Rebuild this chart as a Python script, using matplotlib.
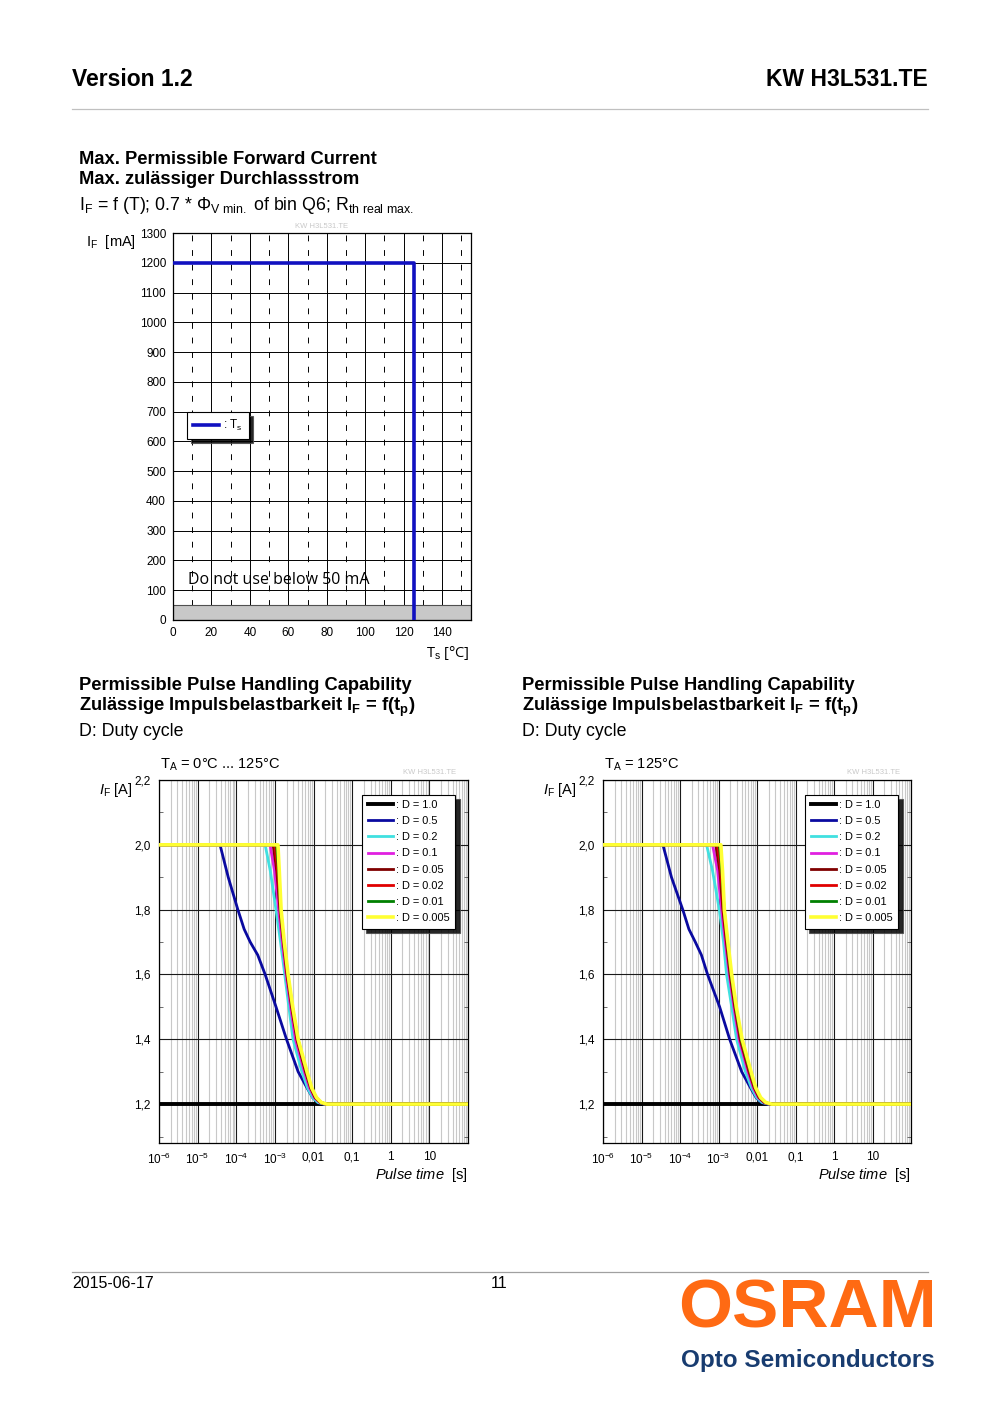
import matplotlib
matplotlib.use("Agg")
import matplotlib.pyplot as plt
from matplotlib.lines import Line2D

plt.rcParams['font.family'] = ['Liberation Sans', 'DejaVu Sans']
plt.rcParams['mathtext.fontset'] = 'custom'
plt.rcParams['mathtext.rm'] = 'Liberation Sans'
plt.rcParams['mathtext.it'] = 'Liberation Sans:italic'
plt.rcParams['mathtext.bf'] = 'Liberation Sans:bold'

# ---------------- data ----------------
# Chart 1: max permissible forward current
ts_temp = [0, 125.5, 125.5]
ts_current = [1200, 1200, 0]
top_yticks = [0, 100, 200, 300, 400, 500, 600, 700, 800, 900, 1000, 1100, 1200, 1300]
top_xticks = [0, 20, 40, 60, 80, 100, 120, 140]

# Pulse charts: tick labels
pulse_xticks = [1e-6, 1e-5, 1e-4, 1e-3, 1e-2, 1e-1, 1, 10, 100]
pulse_xlabels = ['10$^{-6}$', '10$^{-5}$', '10$^{-4}$', '10$^{-3}$', '0,01', '0,1', '1', '10', '']
pulse_yticks = [1.2, 1.4, 1.6, 1.8, 2.0, 2.2]
pulse_ylabels = ['1,2', '1,4', '1,6', '1,8', '2,0', '2,2']

duty_labels = [': D = 1.0', ': D = 0.5', ': D = 0.2', ': D = 0.1', ': D = 0.05',
               ': D = 0.02', ': D = 0.01', ': D = 0.005']

# Left chart (TA = 0..125 °C): pulse time [s] and current [A] per duty cycle
L_t_d10 = [1e-6, 100]
L_i_d10 = [1.2, 1.2]
L_t_d05 = [1e-6, 3.8e-5, 6.2e-5, 1.1e-4, 1.6e-4, 2.3e-4, 3.6e-4, 5.6e-4, 1.07e-3, 2.0e-3, 4.0e-3, 6.8e-3, 9.5e-3, 0.013, 0.018, 100]
L_i_d05 = [2.0, 2.0, 1.9, 1.8, 1.74, 1.7, 1.66, 1.6, 1.5, 1.4, 1.3, 1.25, 1.22, 1.205, 1.2, 1.2]
L_t_d02 = [1e-6, 5.6e-4, 7.6e-4, 1.07e-3, 1.4e-3, 1.8e-3, 2.3e-3, 2.95e-3, 5.0e-3, 7.0e-3, 9.5e-3, 0.013, 0.019, 100]
L_i_d02 = [2.0, 2.0, 1.92, 1.8, 1.7, 1.6, 1.5, 1.4, 1.3, 1.25, 1.22, 1.205, 1.2, 1.2]
L_t_d01 = [1e-6, 7.5e-4, 9.8e-4, 1.25e-3, 1.55e-3, 1.95e-3, 2.55e-3, 3.4e-3, 5.8e-3, 7.9e-3, 0.0105, 0.0145, 0.02, 100]
L_i_d01 = [2.0, 2.0, 1.92, 1.8, 1.7, 1.6, 1.5, 1.4, 1.3, 1.25, 1.22, 1.205, 1.2, 1.2]
L_t_d005 = [1e-6, 9.0e-4, 1.12e-3, 1.35e-3, 1.65e-3, 2.05e-3, 2.7e-3, 3.7e-3, 6.2e-3, 8.4e-3, 0.011, 0.015, 0.021, 100]
L_i_d005 = [2.0, 2.0, 1.92, 1.8, 1.7, 1.6, 1.5, 1.4, 1.3, 1.25, 1.22, 1.205, 1.2, 1.2]
L_t_d002 = [1e-6, 1.0e-3, 1.18e-3, 1.4e-3, 1.7e-3, 2.1e-3, 2.8e-3, 3.85e-3, 6.5e-3, 8.7e-3, 0.0115, 0.0155, 0.021, 100]
L_i_d002 = [2.0, 2.0, 1.92, 1.8, 1.7, 1.6, 1.5, 1.4, 1.3, 1.25, 1.22, 1.205, 1.2, 1.2]
L_t_d001 = [1e-6, 1.1e-3, 1.25e-3, 1.42e-3, 1.72e-3, 2.15e-3, 2.85e-3, 3.95e-3, 6.6e-3, 8.8e-3, 0.0118, 0.0158, 0.022, 100]
L_i_d001 = [2.0, 2.0, 1.92, 1.8, 1.7, 1.6, 1.5, 1.4, 1.3, 1.25, 1.22, 1.205, 1.2, 1.2]
L_t_d0005 = [1e-6, 1.2e-3, 1.3e-3, 1.45e-3, 1.75e-3, 2.2e-3, 2.9e-3, 4.0e-3, 6.8e-3, 9.0e-3, 0.012, 0.016, 0.022, 100]
L_i_d0005 = [2.0, 2.0, 1.92, 1.8, 1.7, 1.6, 1.5, 1.4, 1.3, 1.25, 1.22, 1.205, 1.2, 1.2]

# Right chart (TA = 125 °C)
R_t_d10 = [1e-6, 100]
R_i_d10 = [1.2, 1.2]
R_t_d05 = [1e-6, 3.6e-5, 6.0e-5, 1.18e-4, 1.7e-4, 2.5e-4, 3.6e-4, 5.2e-4, 1.07e-3, 1.95e-3, 4.0e-3, 6.8e-3, 9.5e-3, 0.013, 0.018, 100]
R_i_d05 = [2.0, 2.0, 1.9, 1.8, 1.74, 1.7, 1.66, 1.6, 1.5, 1.4, 1.3, 1.25, 1.22, 1.205, 1.2, 1.2]
R_t_d02 = [1e-6, 4.9e-4, 7.0e-4, 1.05e-3, 1.35e-3, 1.62e-3, 2.2e-3, 2.95e-3, 5.0e-3, 7.2e-3, 0.0098, 0.0135, 0.02, 100]
R_i_d02 = [2.0, 2.0, 1.92, 1.8, 1.7, 1.6, 1.5, 1.4, 1.3, 1.25, 1.22, 1.205, 1.2, 1.2]
R_t_d01 = [1e-6, 7.0e-4, 9.5e-4, 1.2e-3, 1.5e-3, 1.9e-3, 2.5e-3, 3.4e-3, 5.8e-3, 8.0e-3, 0.0108, 0.015, 0.021, 100]
R_i_d01 = [2.0, 2.0, 1.92, 1.8, 1.7, 1.6, 1.5, 1.4, 1.3, 1.25, 1.22, 1.205, 1.2, 1.2]
R_t_d005 = [1e-6, 8.5e-4, 1.08e-3, 1.3e-3, 1.6e-3, 2.0e-3, 2.65e-3, 3.65e-3, 6.2e-3, 8.5e-3, 0.0113, 0.0155, 0.022, 100]
R_i_d005 = [2.0, 2.0, 1.92, 1.8, 1.7, 1.6, 1.5, 1.4, 1.3, 1.25, 1.22, 1.205, 1.2, 1.2]
R_t_d002 = [1e-6, 9.5e-4, 1.15e-3, 1.35e-3, 1.65e-3, 2.08e-3, 2.75e-3, 3.8e-3, 6.5e-3, 8.8e-3, 0.0117, 0.016, 0.022, 100]
R_i_d002 = [2.0, 2.0, 1.92, 1.8, 1.7, 1.6, 1.5, 1.4, 1.3, 1.25, 1.22, 1.205, 1.2, 1.2]
R_t_d001 = [1e-6, 1.05e-3, 1.22e-3, 1.4e-3, 1.7e-3, 2.12e-3, 2.8e-3, 3.9e-3, 6.7e-3, 9.0e-3, 0.012, 0.0165, 0.023, 100]
R_i_d001 = [2.0, 2.0, 1.92, 1.8, 1.7, 1.6, 1.5, 1.4, 1.3, 1.25, 1.22, 1.205, 1.2, 1.2]
R_t_d0005 = [1e-6, 1.15e-3, 1.27e-3, 1.42e-3, 1.75e-3, 2.2e-3, 2.9e-3, 4.1e-3, 7.0e-3, 9.3e-3, 0.0125, 0.017, 0.024, 100]
R_i_d0005 = [2.0, 2.0, 1.92, 1.8, 1.7, 1.6, 1.5, 1.4, 1.3, 1.25, 1.22, 1.205, 1.2, 1.2]

duty_colors = ['#000000', '#0a0aa0', '#40e0e0', '#e020e0', '#800000', '#e00000', '#008000', '#ffff33']
duty_widths = [2.8, 2.0, 2.0, 2.0, 2.0, 2.0, 2.0, 2.6]

# ---------------- figure ----------------
W, H = 1000, 1415
fig = plt.figure(figsize=(W / 100, H / 100), dpi=100)


def fx(px):
    return px / W


def fy(py):
    return 1 - py / H


def ax_rect(l, t, r, b):
    return [l / W, 1 - b / H, (r - l) / W, (b - t) / H]


# header / footer
fig.text(fx(72), fy(80), 'Version 1.2', fontsize=16.5, fontweight='bold', va='center', ha='left')
fig.text(fx(928), fy(80), 'KW H3L531.TE', fontsize=16.5, fontweight='bold', va='center', ha='right')
fig.add_artist(Line2D([fx(72), fx(928)], [fy(109), fy(109)], color='#c0c0c0', lw=0.9))
fig.add_artist(Line2D([fx(72), fx(928)], [fy(1272), fy(1272)], color='#a0a0a0', lw=0.9))
fig.text(fx(72), fy(1284), '2015-06-17', fontsize=11.5, va='center', ha='left')
fig.text(fx(499), fy(1284), '11', fontsize=11.5, va='center', ha='center')
fig.text(fx(807), fy(1309), 'OSRAM', fontsize=50, fontweight='bold', color='#ff6a13',
         va='center', ha='center')
fig.text(fx(808), fy(1360), 'Opto Semiconductors', fontsize=17.5, fontweight='bold',
         color='#183c70', va='center', ha='center')

# ---------------- top chart ----------------
fig.text(fx(79), fy(159), 'Max. Permissible Forward Current', fontsize=13.2, fontweight='bold', va='center')
fig.text(fx(79), fy(180), 'Max. zulässiger Durchlassstrom', fontsize=13.2, fontweight='bold', va='center')
fig.text(fx(79), fy(205), r'I$_\mathrm{F}$ = f (T); 0.7 * Φ$_\mathrm{V\ min.}$ of bin Q6; R$_\mathrm{th\ real\ max.}$',
         fontsize=12.8, va='center')

ax = fig.add_axes(ax_rect(173, 233, 471, 620))
ax.set_xlim(0, 155)
ax.set_ylim(0, 1300)
ax.axhspan(0, 50, facecolor='#c8c8c8', edgecolor='#505050', lw=0.8, zorder=2)
ax.set_xticks(top_xticks)
ax.set_xticks([10, 30, 50, 70, 90, 110, 130, 150], minor=True)
ax.set_yticks(top_yticks)
ax.grid(which='major', color='black', lw=0.7, zorder=1)
ax.grid(which='minor', axis='x', color='black', lw=0.7, ls=(0, (6, 9)), zorder=1)
ax.tick_params(which='both', length=0, labelsize=8.5, pad=5)
ax.plot(ts_temp, ts_current, color='#1010c0', lw=2.6, zorder=4, label=': T$_\mathrm{s}$')
for s in ax.spines.values():
    s.set_linewidth(0.9)
ax.text(8, 134, 'Do not use below 50 mA', fontsize=11.5, family=['Open Sans', 'DejaVu Sans'],
        va='center', ha='left', zorder=5)
leg = ax.legend(loc='upper left', bbox_to_anchor=(0.026, 0.553), fontsize=8.5, fancybox=False,
                edgecolor='black', framealpha=1, handlelength=2.2, handletextpad=0.4,
                borderpad=0.5, shadow={'ox': 3, 'oy': -3, 'facecolor': 'black', 'alpha': 0.85})
leg.get_frame().set_linewidth(0.8)
fig.text(fx(86), fy(242), r'I$_\mathrm{F}$  [mA]', fontsize=10.5, va='center', ha='left')
fig.text(fx(470), fy(653), r'T$_\mathrm{s}$ [°C]', fontsize=10.5, va='center', ha='right',
         family=['Open Sans', 'DejaVu Sans'])
fig.text(fx(322), fy(226), 'KW H3L531.TE', fontsize=5.5, color='#c8c8c8', va='center', ha='center')

# ---------------- pulse charts ----------------
left_sets = [(L_t_d10, L_i_d10), (L_t_d05, L_i_d05), (L_t_d02, L_i_d02), (L_t_d01, L_i_d01),
             (L_t_d005, L_i_d005), (L_t_d002, L_i_d002), (L_t_d001, L_i_d001), (L_t_d0005, L_i_d0005)]
right_sets = [(R_t_d10, R_i_d10), (R_t_d05, R_i_d05), (R_t_d02, R_i_d02), (R_t_d01, R_i_d01),
              (R_t_d005, R_i_d005), (R_t_d002, R_i_d002), (R_t_d001, R_i_d001), (R_t_d0005, R_i_d0005)]


def pulse_chart(x0, left, right, ta_text, sets):
    fig.text(fx(x0), fy(685), 'Permissible Pulse Handling Capability', fontsize=13.2,
             fontweight='bold', va='center')
    fig.text(fx(x0), fy(707), r'Zulässige Impulsbelastbarkeit I$_\mathbf{F}$ = f(t$_\mathbf{p}$)',
             fontsize=13.2, fontweight='bold', va='center')
    fig.text(fx(x0), fy(731), 'D: Duty cycle', fontsize=12.8, va='center')
    a = fig.add_axes(ax_rect(left, 780, right, 1143))
    a.set_xscale('log')
    a.set_xlim(1e-6, 100)
    a.set_ylim(1.08, 2.2)
    a.set_xticks(pulse_xticks)
    a.set_xticklabels(pulse_xlabels)
    a.set_yticks(pulse_yticks)
    a.set_yticklabels(pulse_ylabels)
    a.set_yticks([1.1, 1.3, 1.5, 1.7, 1.9, 2.1], minor=True)
    a.grid(which='major', axis='both', color='#1a1a1a', lw=0.8, zorder=1)
    a.grid(which='minor', axis='x', color='#c8c8c8', lw=0.8, zorder=0)
    a.tick_params(which='major', length=0, labelsize=8.5, pad=6)
    a.tick_params(which='minor', axis='y', direction='in', length=3, left=True, right=True,
                  color='#555555')
    a.tick_params(which='minor', axis='x', length=0)
    for s in a.spines.values():
        s.set_linewidth(0.9)
    for (t, i), c, w, lab in zip(sets, duty_colors, duty_widths, duty_labels):
        a.plot(t, i, color=c, lw=w, label=lab, zorder=3, solid_joinstyle='round')
    lg = a.legend(loc='upper right', bbox_to_anchor=(0.977, 0.975), fontsize=7.9, fancybox=False,
                  edgecolor='black', framealpha=1, handlelength=2.3, handletextpad=0.3,
                  labelspacing=0.56, borderpad=0.5,
                  shadow={'ox': 3, 'oy': -3, 'facecolor': 'black', 'alpha': 0.85})
    lg.get_frame().set_linewidth(0.8)
    fig.text(fx(left + 1), fy(765), ta_text, fontsize=10.5, va='center', ha='left')
    fig.text(fx(left + 271), fy(772), 'KW H3L531.TE', fontsize=5.5, color='#c8c8c8',
             va='center', ha='center')
    fig.text(fx(left - 60), fy(790), r'$I_\mathrm{F}$ [A]', fontsize=10.5, va='center', ha='left')
    fig.text(fx(right), fy(1175), r'$\it{Pulse\ time}$  [s]', fontsize=10.5, va='center', ha='right')
    return a


pulse_chart(79, 159, 468, r'T$_\mathrm{A}$ = 0°C ... 125°C', left_sets)
pulse_chart(522, 603, 911, r'T$_\mathrm{A}$ = 125°C', right_sets)

fig.savefig('out.png', dpi=100)
